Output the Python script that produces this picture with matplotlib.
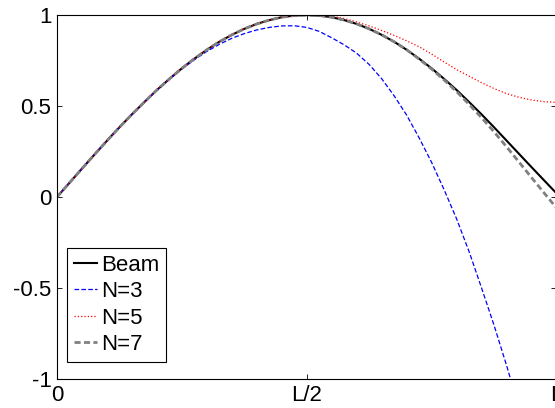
import matplotlib
matplotlib.use("Agg")
import matplotlib.pyplot as plt

# positions along the beam, as fraction of L
x_pos = [0.0, 0.025, 0.05, 0.075, 0.1, 0.125, 0.15, 0.175, 0.2, 0.225,
         0.25, 0.275, 0.3, 0.325, 0.35, 0.375, 0.4, 0.425, 0.45, 0.475,
         0.5, 0.525, 0.55, 0.575, 0.6, 0.625, 0.65, 0.675, 0.7, 0.725,
         0.75, 0.775, 0.8, 0.825, 0.85, 0.875, 0.9, 0.925, 0.95, 0.975, 1.0]

beam = [0.0, 0.078, 0.156, 0.233, 0.309, 0.383, 0.454, 0.522, 0.588, 0.649,
        0.707, 0.760, 0.809, 0.853, 0.891, 0.924, 0.951, 0.972, 0.988, 0.997,
        1.0, 0.997, 0.988, 0.972, 0.951, 0.924, 0.891, 0.853, 0.809, 0.760,
        0.707, 0.649, 0.588, 0.522, 0.454, 0.383, 0.310, 0.237, 0.164, 0.092, 0.020]

n3 = [0.0, 0.078, 0.156, 0.233, 0.309, 0.383, 0.454, 0.522, 0.587, 0.647,
      0.703, 0.754, 0.800, 0.839, 0.872, 0.898, 0.918, 0.932, 0.940, 0.941,
      0.932, 0.910, 0.875, 0.836, 0.790, 0.728, 0.650, 0.556, 0.450, 0.325,
      0.190, 0.040, -0.120, -0.300, -0.500, -0.705, -0.925, -1.160, -1.400, -1.650, -1.900]

n5 = [0.0, 0.078, 0.156, 0.233, 0.309, 0.383, 0.454, 0.522, 0.588, 0.649,
      0.707, 0.760, 0.809, 0.853, 0.891, 0.924, 0.951, 0.972, 0.988, 0.997,
      1.0, 0.999, 0.993, 0.981, 0.962, 0.940, 0.915, 0.888, 0.858, 0.8255,
      0.7855, 0.742, 0.700, 0.664, 0.628, 0.596, 0.568, 0.548, 0.533, 0.524, 0.520]

n7 = [0.0, 0.078, 0.156, 0.233, 0.309, 0.383, 0.454, 0.522, 0.588, 0.649,
      0.707, 0.760, 0.809, 0.853, 0.891, 0.924, 0.951, 0.972, 0.988, 0.997,
      1.0, 0.997, 0.988, 0.972, 0.951, 0.924, 0.891, 0.853, 0.809, 0.758,
      0.703, 0.643, 0.579, 0.509, 0.436, 0.358, 0.276, 0.192, 0.107, 0.023, -0.060]

x_ticks = [0.0, 0.5, 1.0]
x_tick_labels = ["0", "L/2", "L"]
y_ticks = [-1.0, -0.5, 0.0, 0.5, 1.0]
y_tick_labels = ["-1", "-0.5", "0", "0.5", "1"]

plt.rcParams["font.family"] = ["Liberation Sans", "DejaVu Sans"]
plt.rcParams["font.size"] = 16

fig = plt.figure(figsize=(5.55, 4.08), dpi=100)
ax = fig.add_axes([0.1027, 0.0711, 0.9, 0.8921])

ax.plot(x_pos, beam, color="black", lw=1.5, label="Beam")
ax.plot(x_pos, n3, color="blue", lw=0.9, ls="--", dashes=(3.7, 1.8), label="N=3")
ax.plot(x_pos, n5, color="red", lw=0.9, ls=":", label="N=5")
ax.plot(x_pos, n7, color=(0.5, 0.5, 0.5), lw=2.0, ls="--", dashes=(2.2, 1.2), label="N=7")

ax.set_xlim(0, 1)
ax.set_ylim(-1, 1)
ax.set_xticks(x_ticks)
ax.set_xticklabels(x_tick_labels)
ax.set_yticks(y_ticks)
ax.set_yticklabels(y_tick_labels)
ax.tick_params(direction="in", top=True, right=True, length=3.6, width=0.6,
               labelsize=16, pad=4)
for s in ax.spines.values():
    s.set_linewidth(0.8)

leg = ax.legend(loc="lower left", bbox_to_anchor=(0.02, 0.047), borderaxespad=0,
                fancybox=False, framealpha=1, edgecolor="black", fontsize=16,
                handlelength=1.05, handletextpad=0.2, labelspacing=0.25,
                borderpad=0.3)
leg.get_frame().set_linewidth(0.8)

fig.savefig("out.png", dpi=100)
